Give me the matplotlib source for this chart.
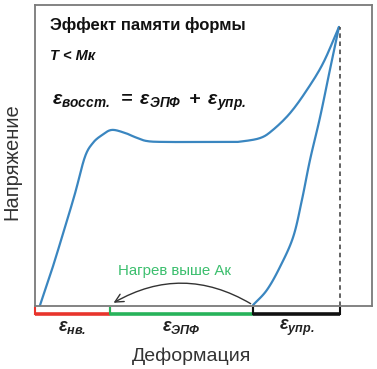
import numpy as np
import matplotlib
matplotlib.use('Agg')
import matplotlib.pyplot as plt
from matplotlib.patches import FancyArrowPatch

plt.rcParams['font.family'] = ['Liberation Sans', 'DejaVu Sans']
plt.rcParams['mathtext.fontset'] = 'custom'
plt.rcParams['mathtext.rm'] = 'Liberation Sans:bold:italic'
plt.rcParams['mathtext.it'] = 'Liberation Sans:bold:italic'
plt.rcParams['mathtext.bf'] = 'Liberation Sans:bold:italic'

# loading curve (deformation, stress)
load_x = [1.5, 5.0, 8.9, 11.9, 14.8, 17.2, 19.9, 22.8, 26.7, 29.7, 33.2, 38.6, 49.0, 57.9,
          60.8, 66.8, 70.6, 75.7, 80.7, 85.5, 90.2]
load_y = [0.3, 12.0, 26.2, 37.5, 49.5, 54.2, 56.8, 58.5, 57.5, 56.1, 54.8, 54.5, 54.5, 54.5,
          54.6, 55.8, 58.5, 64.1, 71.8, 80.7, 92.7]
# unloading curve
unload_x = [90.2, 87.5, 84.6, 81.6, 79.2, 76.6, 72.7, 68.8, 64.7]
unload_y = [92.7, 78.4, 62.8, 48.5, 35.2, 22.9, 13.0, 5.3, 0.3]

# strain segments: irreversible, shape memory, elastic
seg_edges = [0.0, 22.3, 64.7, 90.4]
seg_colors = ['#e8342c', '#27b35a', '#111111']
seg_labels = [r'$ε_{нв.}$', r'$ε_{ЭПФ}$', r'$ε_{упр.}$']


def smooth(xs, ys, n=12):
    # catmull-rom through the read points
    p = np.column_stack([xs, ys]).astype(float)
    p = np.vstack([2 * p[0] - p[1], p, 2 * p[-1] - p[-2]])
    out = []
    t = np.linspace(0, 1, n, endpoint=False)[:, None]
    for i in range(1, len(p) - 2):
        p0, p1, p2, p3 = p[i - 1], p[i], p[i + 1], p[i + 2]
        out.append(0.5 * (2 * p1 + (-p0 + p2) * t + (2 * p0 - 5 * p1 + 4 * p2 - p3) * t ** 2
                          + (-p0 + 3 * p1 - 3 * p2 + p3) * t ** 3))
    out.append(p[-2][None, :])
    out = np.vstack(out)
    return out[:, 0], out[:, 1]


fig = plt.figure(figsize=(3.77, 3.69), dpi=100)
ax = fig.add_axes([35/377, 1-306/369, 337/377, 301/369])
ax.set_xlim(0, 100)
ax.set_ylim(0, 100)
ax.set_xticks([])
ax.set_yticks([])
for s in ax.spines.values():
    s.set_color('#7a7a7a')
    s.set_linewidth(1.3)

ax.plot(*smooth(load_x, load_y), color='#3a86c0', lw=1.6, solid_capstyle='round')
ax.plot(*smooth(unload_x, unload_y), color='#3a86c0', lw=1.6, solid_capstyle='round')
ax.plot([seg_edges[-1]] * 2, [0, load_y[-1]], color='#555555', lw=1.3, ls=(0, (2.5, 2)))

for i in range(3):
    x0, x1 = seg_edges[i], seg_edges[i + 1]
    ax.plot([x0, x1], [-2.6, -2.6], color=seg_colors[i], lw=2.6, clip_on=False, solid_capstyle='butt')
    ax.plot([x0, x0], [-2.6, -0.6], color=seg_colors[i], lw=1.5, clip_on=False)
    ax.plot([x1, x1], [-2.6, -0.6], color=seg_colors[i], lw=1.5, clip_on=False)
    ax.text((x0 + x1) / 2, -7.2, seg_labels[i], ha='center', va='center', fontsize=13, color='#222222')

arr = FancyArrowPatch((seg_edges[2], 0.3), (seg_edges[1] + 0.3, 0.6),
                      connectionstyle='arc3,rad=0.3', arrowstyle='->,head_length=6,head_width=3',
                      color='#333333', lw=1.0, clip_on=False)
ax.add_patch(arr)
ax.text(41.5, 11.6, 'Нагрев выше Ак', color='#3cbf6e', fontsize=10.8, ha='center', va='center')

ax.text(4.5, 93.4, 'Эффект памяти формы', fontsize=12, fontweight='bold', ha='left', va='center', color='#111111')
ax.text(4.5, 83.0, 'T < Mк', fontsize=10.5, fontweight='bold', style='italic', ha='left', va='center', color='#111111')
ax.text(5.0, 67.6, r'$ε_{восст.}\;=\;ε_{ЭПФ}\;+\;ε_{упр.}$', fontsize=14, ha='left', va='center', color='#111111')

fig.text(12/377, 1-162/369, 'Напряжение', rotation=90, fontsize=14.5, ha='center', va='center', color='#333333')
fig.text(192/377, 1-356/369, 'Деформация', fontsize=14, ha='center', va='center', color='#333333')

fig.savefig('out.png', dpi=100)
